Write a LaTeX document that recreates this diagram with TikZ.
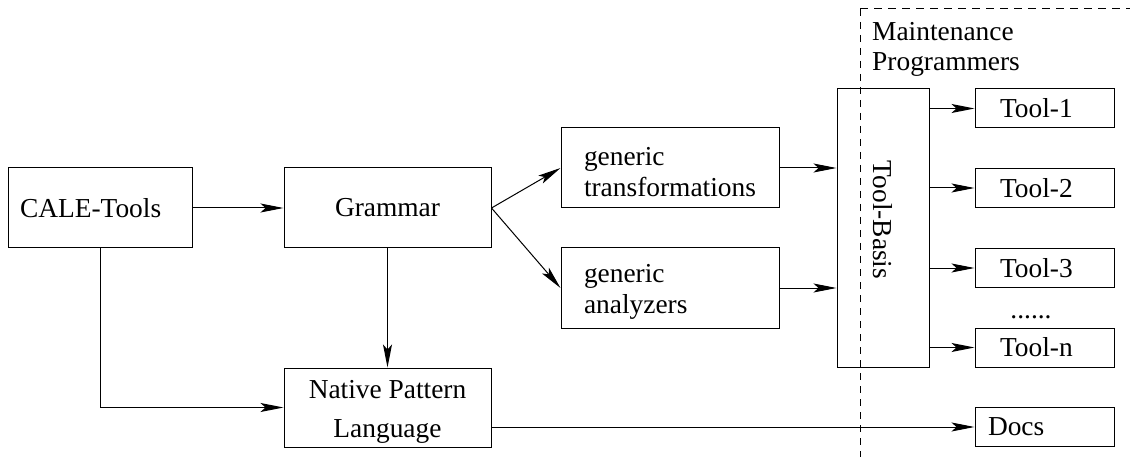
\documentclass[tikz,border=0pt]{standalone}
\usepackage{fontspec}
\setmainfont{Liberation Serif}
\newfontfamily\tnr{Liberation Serif}
\usepackage{graphicx}
\usetikzlibrary{arrows.meta}
\begin{document}
\begin{tikzpicture}[x=1pt,y=-1pt,
  txt/.style={font=\tnr\fontsize{27.4}{31}\selectfont},
  box/.style={draw, line width=1pt, inner ysep=0pt, txt},
  leftbox/.style={box, align=left},
  arr/.style={line width=1pt, -{Stealth[length=23pt,width=9pt,inset=5pt]}},
  ln/.style={line width=1pt}
]
\useasboundingbox (0,0) rectangle (1130,457);

\node[leftbox, minimum width=184, minimum height=80, inner xsep=12, text width=160] (cale) at (100,208) {CALE-Tools};
\node[box, align=center, minimum width=207, minimum height=80] (grammar) at (387.5,208) {Grammar};
\node[leftbox, minimum width=218, minimum height=80, inner xsep=23, text width=172] (gentrans) at (670,168) {\rule{0pt}{26pt}generic\\transformations};
\node[leftbox, minimum width=218, minimum height=80, inner xsep=23, text width=172] (genan) at (670,288) {\rule{0pt}{26pt}generic\\analyzers};
\node[box, align=center, minimum width=207, minimum height=79, font=\tnr\fontsize{27.4}{39}\selectfont] (npl) at (387.5,407.5) {\rule{0pt}{26pt}Native Pattern\\Language};
\node[box, minimum width=92, minimum height=278] (toolbasis) at (883,228) {\rotatebox{-90}{\hspace*{-16pt}Tool-Basis}};

\node[leftbox, minimum width=139, minimum height=39, inner xsep=25, text width=89] (tool1) at (1044.5,108.5) {Tool-1};
\node[leftbox, minimum width=139, minimum height=39, inner xsep=25, text width=89] (tool2) at (1044.5,188) {Tool-2};
\node[leftbox, minimum width=139, minimum height=39, inner xsep=25, text width=89] (tool3) at (1044.5,268) {Tool-3};
\node[leftbox, minimum width=139, minimum height=39, inner xsep=25, text width=89] (tooln) at (1044.5,347.5) {Tool-n};
\node[leftbox, minimum width=139, minimum height=39, inner xsep=13, text width=113] (docs) at (1044.5,427) {Docs};
\node[txt, inner sep=0pt, anchor=base] (dots) at (1031,318) {......};

\node[txt, inner sep=0pt, anchor=north west, align=left, font=\tnr\fontsize{27.4}{30}\selectfont] (maint) at (872,22) {Maintenance\\Programmers};

\draw[ln, dashed, dash pattern=on 8pt off 6pt] (860,9) -- (1140,9);
\draw[ln, dashed, dash pattern=on 7pt off 6pt] (860,9) -- (860,457) -- (1140,457);

\draw[arr] (cale) -- (grammar);
\draw[arr] (grammar.east) -- (gentrans.west);
\draw[arr] (grammar.east) -- (genan.west);
\draw[arr] (gentrans.east) -- (gentrans.east -| toolbasis.west);
\draw[arr] (genan.east) -- (genan.east -| toolbasis.west);
\draw[arr] (grammar.south) -- (npl.north);
\draw[arr] (cale.south) |- (npl.west);
\draw[arr] (npl.east |- docs.west) -- (docs.west);
\draw[arr] (toolbasis.east |- tool1.west) -- (tool1.west);
\draw[arr] (toolbasis.east |- tool2.west) -- (tool2.west);
\draw[arr] (toolbasis.east |- tool3.west) -- (tool3.west);
\draw[arr] (toolbasis.east |- tooln.west) -- (tooln.west);
\end{tikzpicture}
\end{document}
